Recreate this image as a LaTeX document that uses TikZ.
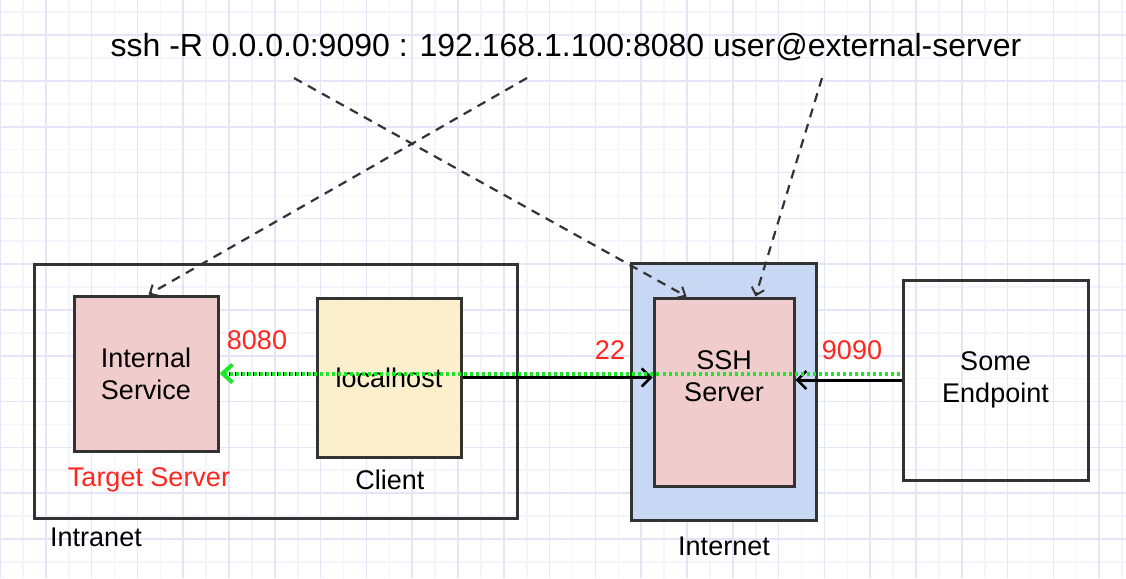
\documentclass[tikz,border=0pt]{standalone}
\usepackage{fontspec}
\setmainfont{Liberation Sans}
\usetikzlibrary{arrows.meta,calc}
\definecolor{gridminor}{RGB}{244,244,253}
\definecolor{gridmajor}{RGB}{229,229,249}
\definecolor{boxline}{RGB}{51,51,51}
\definecolor{pinkfill}{RGB}{241,204,204}
\definecolor{yellowfill}{RGB}{252,240,204}
\definecolor{bluefill}{RGB}{200,216,244}
\definecolor{portred}{RGB}{255,38,30}
\definecolor{flowgreen}{RGB}{30,230,40}
\begin{document}
\begin{tikzpicture}[x=1pt,y=-1pt,
  box/.style={draw=boxline,line width=3pt,inner sep=0pt,align=center,font=\fontsize{27}{32}\selectfont},
  lbl/.style={inner sep=0pt,align=center,font=\fontsize{27}{32}\selectfont},
  port/.style={lbl,text=portred},
  conn/.style={draw=black,line width=3pt,-{Straight Barb[length=9pt,width=18pt,line width=2.5pt]}},
  dashconn/.style={draw=boxline,line width=2.2pt,dash pattern=on 9pt off 7pt,-{Straight Barb[length=7pt,width=13pt,line width=2pt]}},
  greenflow/.style={draw=flowgreen,line width=4pt,dash pattern=on 3pt off 3pt,{Straight Barb[length=10pt,width=18pt,line width=4pt]}-},
  blackdots/.style={draw=black,line width=4pt,dash pattern=on 3pt off 3pt,dash phase=3pt}
]
\useasboundingbox (0,0) rectangle (1126,578);
\fill[white] (0,0) rectangle (1126,578);
% grid
\foreach \i in {1,3,...,49} \draw[gridminor,line width=1.6pt] (\i*22.9,0) -- (\i*22.9,578);
\foreach \k in {0,2,...,24} \draw[gridminor,line width=1.6pt] (0,12.2+\k*22.9) -- (1126,12.2+\k*22.9);
\foreach \i in {0,2,...,48} \draw[gridmajor,line width=1.6pt] (\i*22.9,0) -- (\i*22.9,578);
\foreach \k in {1,3,...,23} \draw[gridmajor,line width=1.6pt] (0,12.2+\k*22.9) -- (1126,12.2+\k*22.9);

% title
\node[inner sep=0pt,font=\fontsize{32}{38}\selectfont] (cmd) at (566,47) {ssh -R 0.0.0.0:9090 : 192.168.1.100:8080 user@external-server};

% containers
\node[box,minimum width=483pt,minimum height=254pt] (intra) at (275.5,391) {};
\node[box,fill=bluefill,minimum width=185pt,minimum height=257pt] (inet) at (723.5,391.5) {};

% boxes
\node[box,fill=pinkfill,minimum width=144pt,minimum height=155pt] (isvc) at (146,373.5) {Internal\\Service};
\node[box,fill=yellowfill,minimum width=144pt,minimum height=159pt] (local) at (389,377.5) {localhost};
\node[box,fill=pinkfill,minimum width=140pt,minimum height=188pt,
      label={[lbl,name=sshtext,yshift=16pt]center:SSH\\Server}] (ssh) at (724,392) {};
\node[box,minimum width=185pt,minimum height=200pt] (ep) at (995.5,380) {Some\\Endpoint};

% captions
\node[port] (tgt) at (149,480) {Target Server};
\node[lbl] (cli) at (390,480) {Client};
\node[lbl] (intralbl) at (96,537) {Intranet};
\node[lbl] (inetlbl) at (724,546) {Internet};
\node[port] (p8080) at (257,340) {8080};
\node[port] (p22) at (610,350) {22};
\node[port] (p9090) at (852,350) {9090};

% dashed arrows from command
\coordinate (d1s) at (294,78);
\coordinate (d2s) at (527,78);
\coordinate (d3s) at (822,78);
\draw[dashconn] (d1s) -- ([xshift=34pt]ssh.north west);
\draw[dashconn] (d2s) -- ([xshift=76pt]isvc.north west);
\draw[dashconn] (d3s) -- ([xshift=103pt]ssh.north west);

% connections
\draw[blackdots] (isvc.east) -- (isvc.east -| local.west);
\draw[conn] (local.east) -- (local.east -| ssh.west);
\draw[conn] (ep.west) -- (ep.west -| ssh.east);
\draw[greenflow] (isvc.east) -- (isvc.east -| ep.west);
\end{tikzpicture}
\end{document}
